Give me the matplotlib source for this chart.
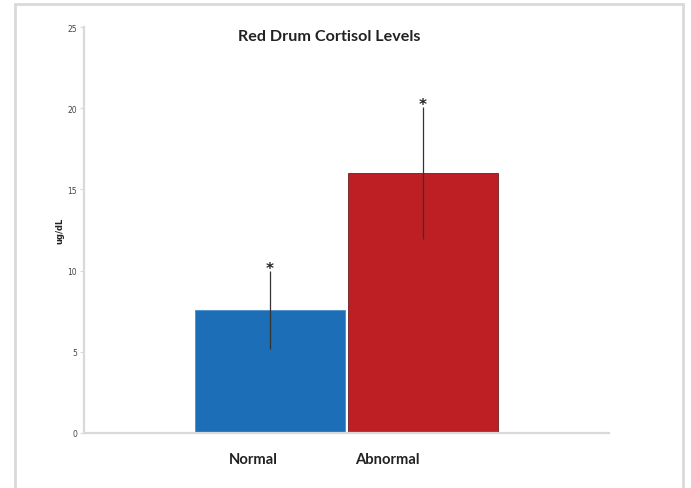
import matplotlib.pyplot as plt
import matplotlib.transforms as mtransforms
from matplotlib.patches import Rectangle

# ── Data ────────────────────────────────────────────────────────────────────
groups = ['Normal', 'Abnormal']
means  = [7.6, 16.0]
errors = [2.4, 4.05]
marks  = ['*', '*']

C_NORMAL   = '#1c6eb7'
C_ABNORMAL = '#be1f25'
C_AXIS     = '#d9d9d9'

# ── Figure ──────────────────────────────────────────────────────────────────
fig = plt.figure(figsize=(6.91, 4.89), dpi=100)
fig.patch.set_facecolor('white')

# light grey chart-area frame (bottom edge runs off the picture)
fig.patches.append(Rectangle((15 / 691, -0.02), (683 - 15) / 691, 1.02 - 5 / 489,
                             transform=fig.transFigure, fill=False,
                             edgecolor=C_AXIS, lw=2))

ax = fig.add_axes([84 / 691, 55 / 489, (609 - 84) / 691, (434 - 28) / 489])

x = list(range(len(groups)))
ax.bar(x, means, width=0.975, color=[C_NORMAL, C_ABNORMAL],
       edgecolor=['#4a8fd0', '#6b2020'], linewidth=0.6, zorder=2)
ax.errorbar(x, means, yerr=errors, fmt='none', ecolor='#333333',
            elinewidth=0.9, capsize=0, zorder=3)
for xi, m, e, s in zip(x, means, errors, marks):
    ax.text(xi, m + e + 0.15, s, ha='center', va='center', fontsize=11,
            fontweight='bold', color='#222222', zorder=4)

ax.set_xlim(-1.216, 2.216)
ax.set_ylim(0, 25)
ax.set_yticks([0, 5, 10, 15, 20, 25])

for side in ('top', 'right'):
    ax.spines[side].set_visible(False)
for side in ('left', 'bottom'):
    ax.spines[side].set_color(C_AXIS)
    ax.spines[side].set_linewidth(1.6)

ax.tick_params(axis='y', length=3, width=0.8, color=C_AXIS,
               labelsize=5.5, labelcolor='#444444', pad=2)
ax.tick_params(axis='x', length=0, pad=14)
ax.set_xticks(x)
ax.set_xticklabels(groups, fontsize=10.6, fontweight='bold', family='Lato',
                   color='#222222', ha='center')
# category labels sit left of the bar centres in the original
for lab, dx in zip(ax.get_xticklabels(), [-17, -36]):
    shift = mtransforms.ScaledTranslation(dx / 100, 0, fig.dpi_scale_trans)
    lab.set_transform(lab.get_transform() + shift)

ax.set_ylabel('ug/dL', fontsize=6, fontweight='bold', labelpad=2,
              color='#222222')

fig.text(329 / 691, 1 - 37 / 489, 'Red Drum Cortisol Levels', ha='center',
         va='center', fontsize=11.6, fontweight='bold', family='Lato',
         color='#222222')

fig.savefig('out.png', dpi=100)
